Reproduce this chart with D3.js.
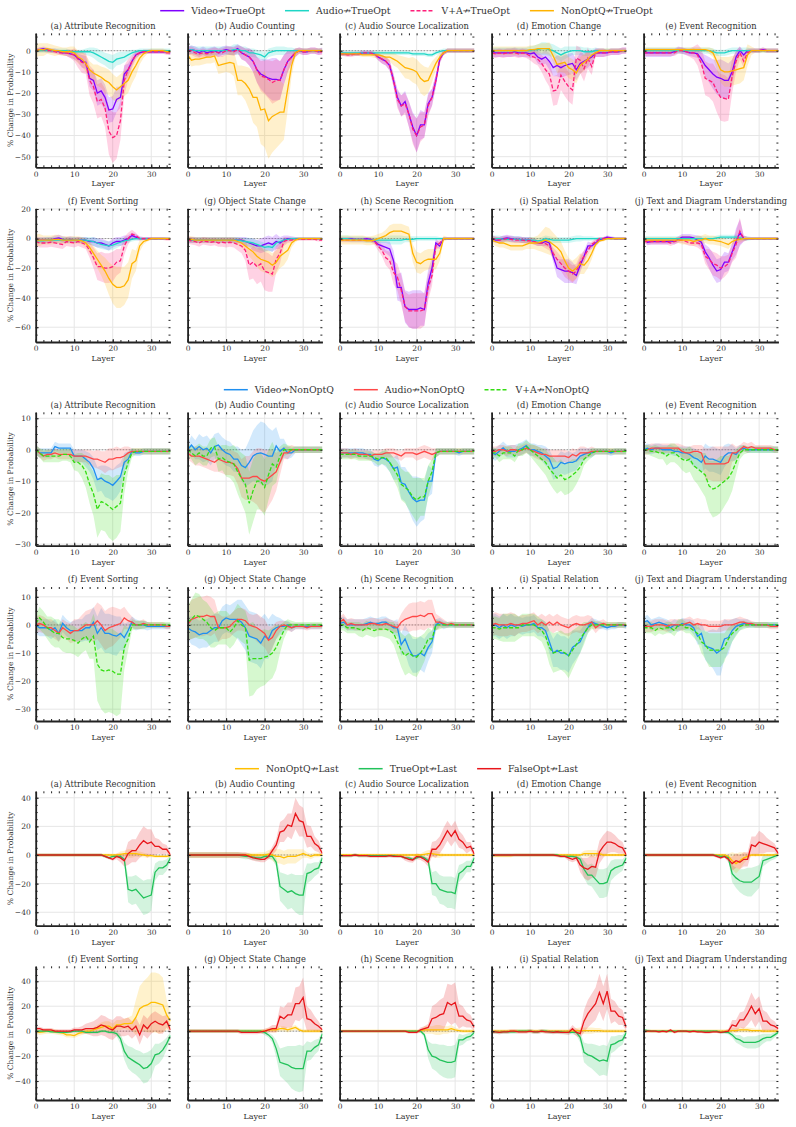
<!DOCTYPE html>
<html>
<head>
<meta charset="utf-8">
<script src="https://cdn.jsdelivr.net/npm/d3@7"></script>
<style>
  body { margin: 0; background: #fff; }
  text { font-family: "DejaVu Serif", serif; fill: #333; }
</style>
</head>
<body>
<svg id="chart" width="796" height="1127"></svg>
<script>
// ---- data ----
const layers = [0,1,2,3,4,5,6,7,8,9,10,11,12,13,14,15,16,17,18,19,20,21,22,23,24,25,26,27,28,29,30,31,32,33,34,35];
const xTicks = [0, 10, 20, 30];
const xMinorTicks = [0,2,4,6,8,10,12,14,16,18,20,22,24,26,28,30,32,34];
const categories = [
  "(a) Attribute Recognition", "(b) Audio Counting", "(c) Audio Source Localization",
  "(d) Emotion Change", "(e) Event Recognition", "(f) Event Sorting",
  "(g) Object State Change", "(h) Scene Recognition", "(i) Spatial Relation",
  "(j) Text and Diagram Understanding"
];
const yTicksByRow = [
  [-50, -40, -30, -20, -10, 0],
  [-60, -40, -20, 0, 20],
  [-30, -20, -10, 0, 10],
  [-30, -20, -10, 0, 10],
  [-40, -20, 0, 20, 40],
  [-40, -20, 0, 20, 40]
];

// group 1: knock-outs towards TrueOpt (mean % change and band half-width per layer)
const videoTrueOpt = [
  [0,0.5,1,0.5,0,0,-0.5,-1,-1,-1.5, -2,-3.5,-5,-5.5,-13,-14,-20,-19,-22,-28, -27.5,-23,-22,-11,-9,-5,-2,-1,-0.5,-0.5, -0.5,-0.5,-0.5,-0.5,-0.5,-1],
  [0,0.5,0,-1,0,-1,-0.5,0,-1,0, 0.5,0,0,1,-1,-2,-3,-5,-9,-11, -12,-13,-13.5,-13.5,-14,-9,-5,-3,-1,0, -0.5,-0.5,0,0,-0.5,0],
  [-1.5,-1.5,-1.5,-1.5,-1.5,-1.5,-1,-1,-1,-1.5, -3,-4,-5,-7,-14,-22,-26,-24,-30,-36, -40,-35,-35,-25,-22,-14,-4,-1,0,0, 0,0,0,0,0,0],
  [-1,-1,-1,-1,-1,-1,-0.5,-1,-1,-1, -1.5,-1,-3,-4,-3,-5,-8,-7,-8,-7, -6.5,-6,-9,-6,-5,-4,-3,-1,-1,-1, -1,-0.5,-0.5,-0.5,0,0],
  [-1,-1,-1,-1,-1,-1,-1,-1,-0.5,0.5, 0,-0.5,-1,-1,-1.5,-4,-7,-9,-11,-12.5, -13,-14,-14,-10,-3,0,-2,0,0,0, 0,0.5,0,0,0,0],
  [-1,-1,-1,-1,-1,0,0.5,-0.5,-1,-0.5, -1,-1,-1,-1,-2,-2,-3,-3,-4,-5, -3,-2,-2,-1,0,2,1,0,0,0, 0,0,0,0,0,0],
  [-1,-1,-1,-1,-1,-1,-1,-1,-1,-1, -1,-1,-1,-1,-1,-2,-3,-4,-5,-5, -4,-3,-4,-2,-3,-1,0,0,0,0, 0,0,0,0,0,0],
  [0,0,0,0,-0.5,-0.5,-0.5,0,-0.5,-1.5, -4,-5,-6,-7,-15,-33,-33,-46,-48,-48, -48,-47,-48,-30,-20,-3,-5,0,0,0, 0,0,0,0,0,0],
  [0,-1,-1,0,0.5,0,-0.5,-0.5,-1,-1, -1,-2,-3,-3,-2,-3,-12,-20,-21,-22, -22,-23,-25,-18,-12,-5,-5,-3,-1,0, 1,0.5,0,0,0,0],
  [0,-2.5,-2,-2,-2,-2,-2,-1.5,-2,-0.5, 1,1,1,0.5,-1,-2.5,-9,-13,-18,-22, -21,-16,-16,-9,-2,4,0,0,0,0, 0,0,0,0,0,0]
];
const videoTrueOptBand = [
  [1,1,1,1,1,1,1,1,1.5,2, 2,2,3,3,4,5,6,6,6,6, 6,6,5,4,3,2,1.5,1,1,1, 1,1,1,1,1,1],
  [2,2,2,2,2,2,2,2,2,2, 2,2,2,2,3,3,4,5,6,7, 8,9,10,10,9,7,5,3,2,1.5, 1.5,1.5,1.5,1.5,1.5,1.5],
  [1,1,1,1,1,1,1,1,1,1, 1.5,2,2,2.5,3,4,5,5,6,7, 8,7,6,5,4,3,2,1,1,1, 1,1,1,1,1,1],
  [2,2,2,2,2,2,2,2,2,2, 2,2,3,3,3,4,4,5,5,5, 5,5,5,5,4,4,3,2,2,2, 1.5,1.5,1.5,1.5,1.5,1.5],
  [2,2,2,2,2,2,2,2,1.5,1.5, 1.5,1.5,1.5,2,2,3,5,6,7,8, 9,9,8,6,3,2,2,1,1,1, 1,1,1,1,1,1],
  [2,2,2,2,2,2,2,2,2,2, 2,2,2,2,2,3,3,3,3,3, 3,3,3,3,2,2,2,1.5,1,1, 1,1,1,1,1,1],
  [2,2,2,2,2,2,2,2,2,2, 2,2,2,2,2,3,3,4,4,5, 5,5,5,5,4,3,2,1.5,1,1, 1,1,1,1,1,1],
  [1,1,1,1,1,1,1,1,1,1.5, 2,3,4,5,7,9,10,11,12,13, 13,12,11,9,7,3,2,1,1,1, 1,1,1,1,1,1],
  [2,2,2,2,2,2,2,2,2,2, 2,2,2,2,3,3,4,6,7,8, 8,7,6,5,4,3,2,2,1.5,1, 1,1,1,1,1,1],
  [1.5,2,2,2,2,2,2,2,2,2, 2,2,2,2,3,4,5,7,8,8, 8,7,6,6,9,9,2,1,1,1, 1,1,1,1,1,1]
];
const audioTrueOpt = [
  [0,0,0,0,0,0,0,0,0,-0.5, -0.5,-0.5,-0.5,-0.5,-0.5,-1,-2,-3,-4,-5, -5.5,-4,-3.5,-3,-2,-1,-0.5,0,0,0, 0,0,0,0,0,0],
  [0,0.5,0,0,0,0,0,0,0,0, 0,0,0.5,0.5,0,0,-1,-1,-1.5,-2, -3,-1,-0.5,0,0,0,0,0,0,0, 0,0,0,0,0,0],
  [-1,-1,-1,-1,-1,-1,-1,-1,-1,-1, -1,-1,-1,-1,-1,-1,-1,-1,-1,-1.5, -1.5,-1.5,-1.5,-2,-2,-1,-0.5,0,0,0, 0,0,0,0,0,0],
  [0,0,0,0,0,0,0,0,0,0, 0,0.5,0.5,1,1,0.5,0,-1,-2,-1, -0.5,0,0,0,-0.5,-0.5,-0.5,0,0,0, 0,0,0,0,0,0],
  [0,0,0,0,0,0,0,0,0,0, 0,0,0,0,0,0,0,0,-0.5,-1, -1,-1,-0.5,0,0,0,0,0,0,0, 0,0,0,0,0,0],
  [-1.5,-1.5,-1.5,-1,-1,-1,-1,-1,-1,-1, -1,-1,-1,-1,-1.5,-2,-3,-4,-4.5,-5, -4.5,-3.5,-2.5,-1.5,-1,-0.5,0,0,0,0, 0,0,0,0,0,0],
  [-1,-1,-1,-1,-1,-1,-1,-1,-1,-1, -1,-1,-1,-1,-1.5,-2,-2.5,-3,-4,-5, -6,-5.5,-6,-3,-2,-1,-0.5,0,0,0, 0,0,0,0,0,0],
  [0,0,0,-0.5,-0.5,-0.5,-0.5,-1,-1,-1, -1,-1,-1,-1,-1,-1,-1,-0.5,-0.5,-0.5, 0,0,0,0,0,0,0,0,0,0, 0,0,0,0,0,0],
  [0,0,0,-0.5,-0.5,-0.5,-0.5,-0.5,-1,-1, -1,-1,-1.5,-1,0,-0.5,-1,-1,-1,-1, -1,-0.5,0,0,0,0,0,0,0,0, 0,0,0,0,0,0],
  [0,0,0,0,0,0,0,0,0,0, 0,0,0,0,0,0,0,0,0,0.5, 1,1,1,1,1,0.5,0,0,0,0, 0,0,0,0,0,0]
];
const audioTrueOptBand = [
  [1,1,1,1,1,1,1,1,1,1, 1,1,1,1.5,2,2.5,3,3,3,3.5, 3.5,3,3,2.5,2,1.5,1,1,1,1, 1,1,1,1,1,1],
  [2,2,2,2,2,2,2,2,2,2, 2,2,2.5,2.5,2,2,2,2,2,2, 2,2,2,2,2,2,1.5,1.5,1,1, 1,1,1,1,1,1],
  [1,1,1,1,1,1,1,1,1,1, 1,1,1,1,1,1,1,1,1,1, 1,1,1,1,1,1,1,1,1,1, 1,1,1,1,1,1],
  [1.5,1.5,1.5,1.5,1.5,1.5,1.5,1.5,1.5,1.5, 2,2,2.5,3,3,3,3,3,3,3, 2.5,2,2,2,2,2,1.5,1.5,1,1, 1,1,1,1,1,1],
  [1.5,1.5,1.5,1.5,1.5,1.5,1.5,1.5,1.5,1.5, 1.5,1.5,1.5,1.5,1.5,1.5,1.5,1.5,1.5,1.5, 1.5,1.5,1.5,1.5,1.5,1.5,1.5,1.5,1,1, 1,1,1,1,1,1],
  [2,2,2,2,2,2,2,2,2,2, 2,2,2,2,2.5,3,3,3,3,3, 3,3,2.5,2,2,1.5,1.5,1,1,1, 1,1,1,1,1,1],
  [2,2,2,2,2,2,2,2,2,2, 2,2,2,2,2,2.5,3,3,3,3, 3,3,3,2.5,2,1.5,1,1,1,1, 1,1,1,1,1,1],
  [2,2,2,2,2,2,2,2,2,2, 2,2,2,3,3,3,3,2,2,2, 1.5,1.5,1.5,1.5,1.5,1.5,1,1,1,1, 1,1,1,1,1,1],
  [2,2,2,2,2,2,2,2,2,2, 2,2,2,2,2,2,2,2,2,2, 2,2,2,2,1.5,1.5,1.5,1,1,1, 1,1,1,1,1,1],
  [1.5,1.5,1.5,1.5,1.5,1.5,1.5,1.5,1.5,1.5, 1.5,1.5,1.5,1.5,1.5,1.5,1.5,1.5,1.5,1.5, 1.5,1.5,1.5,1.5,1.5,1.5,1.5,1.5,1,1, 1,1,1,1,1,1]
];
const vaTrueOpt = [
  [0,0.5,0.5,0,0,-0.5,-1,-1,-1,-1.5, -2,-4,-5.5,-6,-14,-17,-24,-23,-27,-38, -41,-40,-33,-14,-9,-5,-2,-1,-0.5,-0.5, -0.5,-0.5,-0.5,-0.5,-1,-1],
  [0,0,-1,-1.5,-1,-1.5,-1,-0.5,-1,-1, 0,0,-0.5,0.5,-1,-2,-3,-5,-9,-12, -12.5,-13.5,-15,-14,-14,-9,-5,-3,-1,0, -0.5,-0.5,0,0,-0.5,-0.5],
  [-1.5,-1.5,-2,-2,-1.5,-1.5,-1,-1,-1,-1.5, -3,-4,-5,-7,-14,-23,-26,-25,-30,-37, -40,-36,-35,-26,-22,-14,-4,-1,0,0, 0,0,0,0,0,0],
  [-1,-1.5,-1,-1.5,-1,-1,-1,-1.5,-1,-1.5, -2.5,-3,-4,-6,-9,-11,-19,-18.5,-11.5,-14.5, -17,-18.5,-3.5,-4.5,-8.5,-3.5,-7.5,-1,-1,-1, -1,-0.5,-0.5,-0.5,0,0],
  [-1,-1,-1,-1,-1,-1,-1,-1,-1,0, 0,-0.5,-1,-1,-2,-6,-13,-14,-15,-19, -22,-22.5,-23,-12,-5,-1,-5,-1,0,0, 0,0.5,0,0,0,0],
  [-2,-3,-3,-3,-2.5,-3,-3.5,-4,-2,-2.5, -3,-2,-3,-4,-8,-13,-19,-19,-20,-20, -19,-16,-15,-5,0,3,2,0,0,0, 0,0,0,0,-0.5,-0.5],
  [-1,-1.5,-2,-3,-1.5,-2,-2.5,-2,-3,-2.5, -3,-2.5,-3,-4,-5,-8,-18,-16,-19,-17, -22,-23,-24,-14,-10,-2,-1,-1,-0.5,-0.5, -0.5,-0.5,-0.5,-0.5,-1,-1],
  [-0.5,-1,-1,-1,-1,-1,-1,-1,-1,-2, -5,-8,-13,-15,-23,-26,-35,-46,-49,-49, -49,-49,-48,-33,-25,-5,-3,0,0,0, 0,0,0,0,0,0],
  [0,-0.5,-1,-0.5,0,-0.5,-1,-1,-1,-1.5, -1.5,-2,-3,-3,-3.5,-5,-10,-14,-17,-20, -22,-24,-22,-16,-12,-8,-4,-2,0,0, 0.5,0,0,0,0,0],
  [-2,-2,-2,-2,-2,-2,-2,-3,-2,-1, -1,-2,-3,-3,-3,-4,-12,-14,-17,-18, -20,-19,-17,-10,-4,5,0,0,0,0, 0,0,0,0,0,0]
];
const vaTrueOptBand = [
  [1,1,1,1,1,1,1,1,1.5,2, 3,4,5,5,7,8,8,8,9,11, 12,11,9,7,5,3,2,1,1,1, 1,1,1,1,1,1],
  [2,2,2,2,2,2,2,2,2,2, 2,2,2,2,3,3,4,5,6,7, 8,9,10,10,9,7,5,3,2,1.5, 1.5,1.5,1.5,1.5,1.5,1.5],
  [1,1,1,1,1,1,1,1,1,1, 1.5,2,2,2.5,3,4,5,5,6,7, 8,7,6,5,4,3,2,1,1,1, 1,1,1,1,1,1],
  [2,2,2,2,2,2,2,2,2,2, 2,3,3,4,5,6,7,7,7,7, 7,7,6,6,6,5,4,2,2,2, 1.5,1.5,1.5,1.5,1.5,1.5],
  [1.5,1.5,1.5,1.5,1.5,1.5,1.5,1.5,1.5,1.5, 1.5,1.5,2,3,5,7,8,8,9,10, 11,11,10,8,5,3,3,1.5,1,1, 1,1,1,1,1,1],
  [3,3,3,3,3,3,3,3,3,3, 3,3,3,3,5,7,9,10,10,10, 10,9,8,6,4,3,2,1,1,1, 1,1,1,1,1,1],
  [2.5,2.5,2.5,2.5,2.5,2.5,2.5,2.5,2.5,3, 3,3,3,4,5,7,10,11,12,12, 13,13,12,9,7,3,2,1.5,1,1, 1,1,1,1,1,1],
  [1.5,1.5,1.5,1.5,1.5,1.5,1.5,1.5,1.5,2, 3,4,5,6,8,9,10,10,11,12, 12,12,11,9,7,3,2,1,1,1, 1,1,1,1,1,1],
  [2,2,2,2,2,2,2,2,2,2, 2,2,2,2,3,3,4,5,5,6, 6,6,5,5,4,3,2,2,1,1, 1,1,1,1,1,1],
  [1.5,2,2,2,2,2,2,2,2,2, 2,2,2,2,3,4,5,7,8,8, 8,7,6,6,9,9,2,1,1,1, 1,1,1,1,1,1]
];
const nonOptQTrueOpt = [
  [0,0.5,0.5,1,0.5,0,0,-0.5,-0.5,-0.5, -1,-3,-4,-6,-9,-10.5,-11.5,-12.5,-14,-15, -17,-18.5,-17,-15.5,-14,-10,-7,-3.5,-1.5,-0.5, 0,0,0,0,-0.5,-0.5],
  [-2,-4.5,-4,-4,-3.5,-3,-3,-2.5,-7,-6.5, -6,-5.5,-6,-14,-14,-15.5,-18,-22,-22,-28, -27.5,-33,-31,-30,-29,-29,-18,-7,-1,0, 0,0,0,0,0,0],
  [-1.5,-1.5,-1.5,-1.5,-1.5,-1.5,-2,-2,-2,-2, -2,-2.5,-3,-3,-4,-5,-6.5,-8,-8.5,-9, -10,-13,-14.5,-14,-10,-6,-3,-1,0,0, 0,0,0,0,0,0],
  [0,0,0,0,0,0,0,0,0,0, 0.5,0.5,1,1,1,1,-2.5,-6.5,-6,-5.5, -8,-9,-10.5,-7,-5.5,-4,-2,-1,0,0, 0,0,0,0,0,0],
  [0.5,0.5,0.5,0.5,0.5,0.5,0.5,0.5,0.5,0.5, 0.5,0.5,0.5,0.5,0.5,0.5,0.5,0,-1,-5, -9,-10,-10,-9.5,-9,-8.5,-8,-2,0,0, 0,0,0,0,0,0],
  [-1,-1,-1,-1,-1,-0.5,-0.5,-1,-1,-1, -1,-1,-1.5,-3,-6,-10,-14,-18,-22,-27, -31,-33,-33,-32,-28,-17,-15,-5,-2,-1, 0,0,0,0,0,0],
  [-0.5,-0.5,-1,-1,-1,-1,-1,-1,-1,-1, -1,-1,-1,-2,-3,-5,-7,-9,-12,-14, -15,-16,-18,-16,-12,-10,-8,-3,-1,0, 0,0,0,0,0,0],
  [-1,-1,-1,-1,-1,-1,-1,-1.5,-1.5,-1, 0,1,2,4,5,5,5,4,3,-10, -16,-17,-15,-14,-14,-14,-10,0,0,0, 0,0,0,0,0,0],
  [-1,-2,-3,-3,-4,-5,-5,-5,-5,-4, -3,-3,-3,-2,-1,-2,-4,-6,-9,-15, -20,-22,-20,-17,-18,-15,-10,-4,-1.5,-1, 0,0,0,0,0,0],
  [-1,-1,-1,-1,-1,-1,-1,-1,-1,-1, -1,-1,-1,-2,-1,-1,0,-1,-1,-1.5, -2,-3,-4,-2,-1,-0.5,0,0,0,0, 0,0,0,0,0,0]
];
const nonOptQTrueOptBand = [
  [3,3,3,2.5,2.5,2.5,2,2,2,2.5, 3,3,3.5,4,4,4,5,5,6,6, 6,6,6,6,6,5.5,5,3,2,1, 1,1,1,1,1,1],
  [3,3,3,3,3,3,3,3,4,4, 4,5,6,7,7,8,10,12,14,16, 18,18,17,16,15,13,10,5,2,1, 1,1,1,1,1,1],
  [1,1,1,1,1,1,1,1,1,1.5, 1.5,2,2,2,3,3,4,5,5,6, 6,7,7,6,5,3,2,1,1,1, 1,1,1,1,1,1],
  [2,2,2,2,2,2,2,2,2,2, 2,2,2,2.5,2.5,3,3,4,4,5, 5,5,5,4,4,3,2,1.5,1,1, 1,1,1,1,1,1],
  [1,1,1,1,1,1,1,1,1,1, 1,1,1,1,1,1,1,1.5,2,4, 6,7,7,7,7,7,6,5,2,1, 1,1,1,1,1,1],
  [4,4,3,3,3,3,3,2.5,2.5,2.5, 2.5,2.5,2.5,3,4,5,6,7,9,11, 13,14,14,13,12,10,7,4,2,1, 1,1,1,1,1,1],
  [2,2,2,2,2,2,2,2,2,2, 2,2,2,2.5,3,4,5,6,7,8, 8,8,8,8,8,8,6,3,1.5,1, 1,1,1,1,1,1],
  [3,3,3,3,3,3,3,3,3,3, 3,3,4,5,5,5,5,5,5,6, 7,7,7,7,7,7,5,2,1,1, 1,1,1,1,1,1],
  [2,3,3,3,3,3,3,3,3,3, 4,4,5,7,9,9,8,7,7,7, 7,7,7,7,6,5,4,2,1,1, 1,1,1,1,1,1],
  [2,2,2,2,2,2,2,2,2,2, 3,3,3,3,3,3,3,3,3,3, 3,3,3,2,2,2,1.5,1,1,1, 1,1,1,1,1,1]
];

// group 2: knock-outs towards NonOptQ
const videoNonOptQ = [
  [0,-1,-1,-1,-1,1,0.5,0.5,0.5,0.5, -2,-2,-2,-3,-4,-6,-9.5,-9,-10,-10.5, -11.3,-10,-8.6,-4,-3,-0.5,-1,-1,-0.5,-0.5, -0.5,-0.5,-0.5,-0.5,-0.5,-0.5],
  [0,1.5,0,1,0,0.5,-1,1,1.5,0, -1,-1.5,-3,-3,-5,-5.7,-4,-2,-1.2,-1, -1.5,-2,-2,1.2,-0.5,0.5,-1,-1,0,0, 0,0,0,0,0,0],
  [-1,-1,-1,-1,-1,-1,-1,-1.5,-1.5,-3, -3.5,-2.5,-3,-4,-6,-5.5,-10.5,-11,-13.5,-15.5, -16.5,-16,-16,-10,-10,-1,-0.5,-0.5,-0.5,-0.5, -0.5,-1,-0.5,-0.5,-0.5,-0.5],
  [-1,-1.5,-0.5,0.6,-0.5,-0.5,-0.5,0,0.5,1.3, 0,0,-0.5,-1,-2,-3,-6,-5.5,-4,-4.5, -4,-4,-3.5,-2,-1.5,-1,-1,-0.5,-0.5,-0.5, -0.5,-1,-0.5,-0.5,-0.5,-0.5],
  [0,0.5,0,0.5,0.5,0,0,0,-0.5,-0.5, -1,-1,-1.5,-2.5,-3,-4,-2,-3,-3,-3.5, -4,-2,-1,-1,-1.5,0,0.5,0,0,0, 0,0,0,0,0,0],
  [0,-1,-1,-1,-2,-1,-3,0.6,-1,-2, -2,-2,-2,-1,-1,1,-3,-1,-3,-3, -3.6,-4,-3,-4.5,-2,1,0,0,0,-0.5, -0.5,-0.5,-0.5,-0.5,-0.5,-0.5],
  [-1,-2,-2.5,-3.5,-3,-3,-2,-1,-1,1.5, 2.5,2,2,2,1,-1,-4,-4.5,-5,-6.5, -4,-5,-2,-1,-0.5,-0.5,0,-1,-0.5,-0.5, -0.5,-0.5,-0.5,-0.5,-0.5,-0.5],
  [0.5,1,0,0,0,0,0,0.5,1,0.5, 0.5,1,1,0,-1,-1,-7,-5,-8.5,-11, -11,-10,-11,-8,-6,0,1,0,0,0, 0,0,0,0,0,0],
  [0,0,-1,0,-1,0,-0.5,0,-0.5,0, 0,0.5,-1,-1,-2,-6,-10,-9,-10,-10, -11,-8,-7,-6,-3,-1,1,0.5,0,-0.5, -1,-0.5,-0.5,0,0,-0.5],
  [1,1.5,0,0.5,1,0.5,0,-1,0,-0.5, 0.5,0,0,-1,-4,-3,-7.5,-8,-8.5,-10, -9,-5,-4.5,-2,-0.5,0,0.5,0.5,0,0, 0,0,0,0,0,0]
];
const videoNonOptQBand = [
  [1.5,1.5,1.5,1.5,1.5,1.5,1.5,1.5,1.5,1.5, 2,2,2,2.5,3,3.5,4,4,5,5, 5,5,4.5,3,2.5,1,1,1,1,1, 1,1,1,1,1,1],
  [2,3,3,4,4,4,4,4,4,4, 4,4,4,4,5,6,7,8,9,10, 10,9,8,6,4,3,2,1.5,1,1, 1,1,1,1,1,1],
  [1.5,1.5,1.5,1.5,1.5,1.5,1.5,1.5,1.5,2, 2,2,2.5,3,3.5,4,5,5.5,6,7, 8,7,6,5,4,1.5,1,1,1,1, 1,1,1,1,1,1],
  [2,2,2,2,2,2,2,2,2,2, 2,2,2,2.5,3,3,3.5,3.5,3.5,3.5, 3.5,3,3,2.5,2,1.5,1.5,1,1,1, 1,1,1,1,1,1],
  [1.5,1.5,1.5,1.5,1.5,1.5,1.5,1.5,1.5,1.5, 2,2,2.5,3,3,3.5,4,4,4,4, 4,3.5,3,2.5,2,1.5,1,1,1,1, 1,1,1,1,1,1],
  [3,3,3,3,3,3,3,3,3,3, 3.5,4,4,4.5,5,5.5,6,7,7,7, 7,7,6,5,3,2,2,1.5,1.5,1.5, 1,1,1,1,1,1],
  [4,5,5,5,5,5,5,5,5,5, 5,5,6,7,8,8,9,9,9,9, 8,7,6,4,3,2,1.5,1.5,1,1, 1,1,1,1,1,1],
  [2,2,2,2,2,2,2,2,2,2, 2,2,2,2,2.5,3,4,5,6,6, 6,6,6,5,4,2,1.5,1.5,1,1, 1,1,1,1,1,1],
  [4,4,4,4,4,4,3.5,3,3,3, 3,3,3,3,3,4,5,6,6,6, 6,6,5,4,3,2,1.5,1.5,1.5,1, 1,1,1,1,1,1],
  [2,2,2,2,2,2,2,2,2,2, 2,2,2,2.5,3,4,5,6,7,8, 9,7,6,4,3,2,1.5,1.5,1,1, 1,1,1,1,1,1]
];
const audioNonOptQ = [
  [0,-1,-2,-1.5,-1.5,-1,-1.5,-1.5,-1.5,-1.5, -2,-2,-2,-2,-2.5,-3,-3,-3.5,-4,-3, -3,-2.5,-2.5,-2,-1,-0.5,-0.5,-0.5,-0.5,-0.5, -0.5,-0.5,-0.5,-0.5,-0.5,-0.5],
  [-1,-2,-2,-2,-2.5,-3,-3.5,-4,-3,-3.5, -4,-4,-4.5,-6,-9,-9,-9,-8.5,-8.5,-9.5, -10,-9,-8,-7,-4,-1,-1,0,0,0, 0,0,0,0,0,0],
  [-1,-1,-1,-1.5,-1,-1.5,-1.5,-1.5,-2,-1.5, -1.5,-1.5,-1,-1,-1,-1.5,-2,-1,-1,-1, -1.5,-1,-0.5,-1,-1.5,-1,-0.5,-0.5,-0.5,-0.5, -0.5,-0.5,-0.5,-0.5,-0.5,-0.5],
  [-0.5,-0.5,0,0,-0.5,0,0,-0.5,0,0.5, 0,-0.5,-1,-1.5,-1.5,-2,-2,-2,-2,-2, -2.5,-1.5,-2,-1,-1,-1,-0.5,-0.5,-0.5,-0.5, -0.5,-0.5,-0.5,-0.5,-0.5,-0.5],
  [0,0,0.5,0.5,0.5,0.5,0.5,0.5,0.5,0.5, -0.5,-1,-1,-0.5,-0.5,-1,-4.5,-4.5,-4.5,-4.5, -4.5,-4.5,-4,-1,-1,0,1,0.5,1,0.5, 0.5,0.5,0.5,0.5,0,0],
  [0,0.5,0,-1,-1,-2,-3,-1,-2,-3, -2,-2,-1,0,0,0,1.5,0,-2,-1, -0.5,0,0.5,2.5,1.5,1,0,0,0.5,0, 0,0,0,0,-0.5,-0.5],
  [0,2,2.5,3,3,3.5,3,3,-1,-1, -1,-0.5,1,2,2,1.5,0,-0.5,-1,-2, -3,-5.5,-4.5,-2,-0.5,0,-0.5,-1,-0.5,-0.5, -0.5,-1,-0.5,-0.5,-0.5,-0.5],
  [1,2,0,0.5,0,0,0,0,0.5,0.5, 0,0,0.5,0,-0.5,-1,1,2,2.5,3, 3,3.5,3,4,4,1,1,0.5,0,0.5, 0,0,0,0,0,0],
  [0,0.5,0,0,0,0.5,0,0,0.5,0.5, 1,1.5,0,1,0,1,0,1,0,-0.5, -1,0,0.5,0,0,0.5,1,-1,0,0.5, 0,0,0,0,0,0],
  [-0.5,-0.5,-0.5,0,0,0,-0.5,0,0,0, 0,0.5,1,0,0.5,0,0,-0.5,-0.5,-0.5, -0.5,0,0,0,0.5,1,1,0.5,0.5,0, 0,0,0,-0.5,-0.5,-0.5]
];
const audioNonOptQBand = [
  [1.5,1.5,1.5,1.5,1.5,1.5,1.5,1.5,1.5,1.5, 2,2,2,2,2.5,2.5,3,3,3.5,3.5, 3.5,3.5,3,3,2,1,1,1,1,1, 1,1,1,1,1,1],
  [2,2,3,3,3,3,3,3,4,4, 4,4,4,5,6,7,7,8,9,10, 10,9,8,6,4,2,2,1.5,1,1, 1,1,1,1,1,1],
  [1.5,1.5,1.5,1.5,1.5,1.5,1.5,1.5,1.5,1.5, 1.5,1.5,1.5,1.5,1.5,1.5,1.5,1.5,1.5,1.5, 2,2,2,2,2,1.5,1,1,1,1, 1,1,1,1,1,1],
  [1.5,1.5,1.5,1.5,1.5,1.5,1.5,1.5,1.5,1.5, 1.5,2,2,2,2,2,2,2,2,2, 2,2,2,2,2,1.5,1.5,1,1,1, 1,1,1,1,1,1],
  [1.5,1.5,1.5,1.5,1.5,1.5,1.5,1.5,1.5,1.5, 2,2,2,2,2,2.5,5,5,5.5,5.5, 5.5,5.5,5,3,2,1.5,1.5,1.5,1.5,1, 1,1,1,1,1,1],
  [3,3,3,3,3,3,3,3,3,3.5, 4,4,4.5,5,5.5,6,6.5,7,7,7, 7,6,5,4,3,2,1.5,1.5,1.5,1, 1,1,1,1,1,1],
  [6,7,7,7,7,7,7,6,5,4, 4,4,4,4,4,4,4,4,5,5, 5,5,4,3,2,1.5,1.5,1.5,1,1, 1,1,1,1,1,1],
  [2,2,2,2,2,2,2,2,2,2, 2,2,2,2,2,2,3,4,5,5, 5,5,5,5,5,3,2,1.5,1,1, 1,1,1,1,1,1],
  [4,4,4,4,4,4,4,3,3,3, 3,3,3,3,3,3,3,3,3,3, 3,3,3,3,3,3,2,2,1.5,1.5, 1,1,1,1,1,1],
  [2,2,2,2,2,2,2,2,2,2, 2,2,2,2,2,2,2,2,2,2, 2,2,2,2,2,2,1.5,1.5,1,1, 1,1,1,1,1,1]
];
const vaNonOptQ = [
  [0,-1,-2,-2,-2,-2,-2,-1.5,-1.5,-2, -4,-4,-5,-7,-11,-14,-19,-16.5,-17,-18, -19,-18,-17,-8,-4,-1,-0.5,-0.5,-0.5,-0.5, -0.5,-0.5,-0.5,-0.5,-0.5,-0.5],
  [0,-1,-2,-1,-2,-2,0.5,1,-3,-2.5, -3.5,-4,-4.5,-7,-9,-11,-17,-13,-10,-10, -12,-8,-4.5,-5.5,-2,0,0,0,0,0, 0,0,0,0,0,0],
  [-1.5,-1.5,-1.5,-1.5,-1.5,-2,-2,-2,-2,-2.5, -3,-2.5,-2.5,-4,-6,-8,-11,-12,-13,-15, -16,-15,-15,-10,-7,-1,-0.5,-0.5,-0.5,-0.5, -0.5,-0.5,-0.5,-0.5,-0.5,-0.5],
  [-1,-1,-2,-1,-1,-1,-2,0,0,1, 0,-1,-2,-3,-4,-6,-7.5,-9,-8,-9.5, -9,-8,-7,-5.5,-3,-2,-1,-0.5,-0.5,-0.5, -0.5,-0.5,-0.5,-0.5,-0.5,-0.5],
  [0,0,-0.5,-0.5,-1,-1,-2,-1,-1,-2, -3,-3.5,-3,-5,-6,-7,-8,-11.5,-12.5,-12, -11,-10,-9,-7,-4,-1,0,0,0,0, 0,0,0,0,0,0],
  [0.5,2.5,1,-1,-2,-3,-3,-4.5,-5,-5, -5.5,-6.5,-5,-4,-6,-4,-14,-16,-16.5,-16, -16.5,-17.5,-17.5,-8,-5,0,0,0,0,0, 0,0,0,0,0,0],
  [1,2,3.5,3,2,1,-1,-2,-1,-1, -1,-2.5,-1,1.5,0,-1,-12.5,-12,-12,-12, -11.5,-11,-10,-8,-5,-2,0,0,0,0, 0,0,0,0,0,0],
  [0,0,-1,-1,-1,-1.5,-2,-1,-1.5,-2, -1.5,-1.5,-1.5,-2,-3,-6,-9,-11,-10,-11, -11.5,-10,-8,-5,-5,0,0,0,0,0, 0,0,0,0,0,0],
  [-1,-1,-1.5,-1,-1,-1,-1,-1,0,0, 0,0,-1,-2,-4,-8,-10,-9.5,-9,-10, -11,-9,-7,-5,-3,-1,0,0,0,0, 0,0,0,0,0,0],
  [-1,-1,-1,-2,-1,-1.5,-1,-1,-2,0, 0,-1,-1,-2,-3,-6,-7,-9,-9,-9, -9,-8,-5,-3,-2,-0.5,0,0,0,0, 0,0,0,0,0,0]
];
const vaNonOptQBand = [
  [1.5,1.5,2,2,2,2,2,2,2,2, 2.5,3,4,5,6,7,9,9,9,10, 10,10,9,6,3,1.5,1,1,1,1, 1,1,1,1,1,1],
  [2,2,3,3,3,3,3,3,4,4, 5,5,6,7,8,9,10,10,9,9, 9,8,7,5,3,2,1.5,1,1,1, 1,1,1,1,1,1],
  [1.5,1.5,1.5,1.5,1.5,1.5,1.5,1.5,1.5,1.5, 2,2,2.5,3,3.5,4,5,5,6,6, 7,6,6,5,4,1.5,1,1,1,1, 1,1,1,1,1,1],
  [1.5,1.5,2,2,2,2,2,2,2,2, 2,2.5,3,3.5,4,4.5,5,5,5,5, 5,5,4,3,2,1.5,1.5,1,1,1, 1,1,1,1,1,1],
  [1.5,1.5,1.5,2,2,2,3,3,3,3, 3.5,4,4,4.5,5,6,7,8,9,9, 9,8,7,6,4,2,1.5,1,1,1, 1,1,1,1,1,1],
  [3,4,4,4,5,5,5,5,5,5, 5,5,5,5,6,8,13,14,15,15, 15,15,14,8,4,2,1.5,1.5,1.5,1, 1,1,1,1,1,1],
  [6,7,8,8,7,7,7,6,6,6, 6,6,6,6,6,6,13,13,11,10, 10,9,9,8,5,3,2,1.5,1,1, 1,1,1,1,1,1],
  [2,2,2,2,2,2.5,2.5,2.5,2.5,2.5, 2.5,2.5,3,3,4,5,6,7,7,7, 7,6,5,4,3,2,1.5,1,1,1, 1,1,1,1,1,1],
  [4,4,4,5,5,5,5,4,4,4, 4,4,4,4,5,6,7,7,7,7, 8,7,6,5,4,2,1.5,1.5,1,1, 1,1,1,1,1,1],
  [2,2,2,2,2,2,2,2,2,2, 2,2,2,2.5,3,4,5,6,6,6, 6,5,4,3,2,1.5,1.5,1,1,1, 1,1,1,1,1,1]
];

// group 3: knock-outs towards the last token
const nonOptQLast = [
  [0,0,0,0,0,0,0,0,0,0, 0,0,0,0,0,0,0,0,0,0, 0,0,0.5,1,1,1,1,0.5,0,-0.5, -0.5,-1,-1,-1,-1,-0.5],
  [0,0,0,0,0,0,0,0,0,0, 0,0,0,0,0,0,0,0,0,0, 0,0.5,0,-1,-1,-2,-1,-1,-1,0, 1,0,-1,0,0,0],
  [0,0,0,0,0,0,0,0,0,0, 0,0,0,0,0,0,0,0,0,0, 0,0,0.5,1,1,0.5,0,0,0,0, 0,0,0,0,0,0],
  [-0.5,-0.5,-0.5,-0.5,-0.5,-0.5,0,0,0,0, 0,0,0,0,0,0,0,0,0,0, 0,0,0,0,1,1,1,1,1,0, 0,0,0,0,0,0],
  [0,0,0,0,0,0,0,0,0,0, 0,0,0,0,0,0,0,0,0,0, 0,0,-1,-4,-6,-4,-2,-1,0,0, 0,0,0,0,0,0],
  [0,-1,-0.5,0,0,-0.5,-1,-1.5,-3,-3, -3.5,-2,-1,0,0,1,2,3,4,4, 2,5,5,6,6,6.5,11,18,20,21, 23,23,22,21,13,8],
  [0,0,0,0,0,0,0,0,0,0, 0,0,0,0,0,0,0,0,0,0, 0,1,1,1,2,2,1,2,3,1, 0,0,0,0,0,0],
  [0,0,0,0,0,0,0,0,0,0, 0,0,0,0,0,0,0,0,0,0, 0,0,1,1,1,1,1,1,1,2, 1,0.5,0,0,0,0],
  [0,0,0,0,0,0,0,0,0,0, 0,0,0,0,0,0,0,0,0,0, 0,0,0.5,0.5,0.5,0.5,0.5,0.5,0.5,0, 0,0,0,0,0,0],
  [0,0,0,0,0,0,0,0,0,0, 0,0,0,0,0,0,0,0,0,0, 0,0,0,0.5,0.5,1,1,1,0.5,0.5, 0.5,0,0,0,0,0]
];
const nonOptQLastBand = [
  [1,1,1,1,1,1,1,1,1,1, 1,1,1,1,1,1,1,1,1,1, 1,1,2,2,3,3,2,2,1.5,1.5, 1,1,1,1,1,1],
  [2,2,2,2,2,2,2,2,2,2, 2,2,2,2,1.5,1.5,1.5,1.5,1.5,2, 2,3,4,5,5,5,5,5,5,4, 3,2,2,1.5,1.5,1],
  [1,1,1,1,1,1,1,1,1,1, 1,1,1,1,1,1,1,1,1,1, 1,1,2,2.5,2.5,2.5,2,1,1,1, 1,1,1,1,1,1],
  [1,1,1,1,1,1,1,1,1,1, 1,1,1,1,1,1,1,1,1,1, 1,1,1,1,2,2.5,2.5,2.5,2,1, 1,1,1,1,1,1],
  [1,1,1,1,1,1,1,1,1,1, 1,1,1,1,1,1,1,1,1,1, 1,1,2,6,7,6,4,2,1,1, 1,1,1,1,1,1],
  [2,2,2,2,2,2,2,2,2,2, 2,2,2,2,2,2,3,4,4,4, 4,4,4,4,5,6,14,18,20,22, 24,24,24,22,12,6],
  [1.5,1.5,1.5,1.5,1.5,1.5,1.5,1.5,1.5,1.5, 1.5,1.5,1.5,1.5,1.5,1.5,1.5,1.5,1.5,1.5, 1.5,1.5,2,2,2,2,2,2,2,1.5, 1.5,1.5,1.5,1.5,1.5,1.5],
  [1.5,1.5,1.5,1.5,1.5,1.5,1.5,1.5,1.5,1.5, 1.5,1.5,1.5,1.5,1.5,1.5,1.5,1.5,1.5,1.5, 1.5,1.5,3,3,3,4,4,3,3,3, 2,1.5,1.5,1.5,1.5,1.5],
  [1.5,1.5,1.5,1.5,1.5,1.5,1.5,1.5,1.5,1.5, 1.5,1.5,1.5,1.5,1.5,1.5,1.5,1.5,1.5,1.5, 1.5,1.5,2,2.5,2.5,2.5,2.5,2,2,1.5, 1.5,1.5,1.5,1.5,1.5,1.5],
  [1.5,1.5,1.5,1.5,1.5,1.5,1.5,1.5,1.5,1.5, 1.5,1.5,1.5,1.5,1.5,1.5,1.5,1.5,1.5,1.5, 1.5,1.5,1.5,2,2,2,2,2,2,1.5, 1.5,1.5,1.5,1.5,1.5,1.5]
];
const trueOptLast = [
  [0,0,0,0,0,0,0,0,0,0, 0,0,0,0,0,0,0,0,-1,-2, -1,-1,-1,-3,-24,-25,-24,-27,-30,-29, -28,-12,-9,-9,-7,-2],
  [0,0,0,0,0,0,0,0,0,0, 0,0,0,0,-0.5,-1,-1,-1.5,-2,-2, -1,-1,-1,-5,-22,-24,-26,-25,-27,-28, -28,-13,-12,-10,-9,-2],
  [-0.5,-0.5,-0.5,-0.5,0,-0.5,-0.5,-0.5,-0.5,-0.5, -0.5,-0.5,-0.5,-0.5,-0.5,-1,-1,-2,-2,-3, -2,-1,-2,-4,-20,-20,-24,-25,-26,-26, -27,-13,-11,-8,-8,-2],
  [0,0,0,0,0,0,0,0,0,0, 0,0,0,0,0,0,0,0,-1,-1, -1,-1,-1.5,-3,-10,-14,-14,-17,-20,-20, -19,-11,-9,-8,-7,-2],
  [0,0,0,0,0,0,0,0,0,0, 0,0,0,0,0,0,0,0,0,-0.5, -1,-1,-2,-13,-16,-18,-19,-19,-19,-17, -15,-4,-3,-2,-1,0],
  [0,0,0,0,-0.5,-0.5,-1,-1,-1,-0.5, 0,0,0,-1,-1,-1,-1,0,0,-1, -1,-2,-6,-16,-21,-23,-25,-27,-30,-29, -26,-19,-18,-15,-10,-3.5],
  [0,0,0,0,0,0,0,0,0,0, 0,0,0,0,0,0,0,0,0,0, -1,-3,-6,-14,-25,-26,-27,-29,-30,-30, -30,-16,-16,-13,-11,-2],
  [0,0,0,0,0,0,0,0,0,0, 0,0,0,0,0,0,0,0,0,0, 0,0,-3,-15,-20,-21,-23,-24,-25,-25, -24,-7,-7,-5,-4,-1],
  [-0.5,-0.5,-1,-0.5,-0.5,-0.5,-0.5,0,0,0, 0,-0.5,-0.5,0,0,-0.5,-0.5,-0.5,-0.5,-1, -1,-1,-1,-5,-17,-19,-20,-22,-24,-23, -24,-11,-10,-8,-7,-1],
  [1,0.5,0,0,0,0,0,0,0,0, 0,0,0,0,0,0,0,0,0,0, -1,-1,-1,-3,-6,-7,-9,-9,-9,-9, -8,-6,-5,-5,-3,-1]
];
const trueOptLastBand = [
  [1,1,1,1,1,1,1,1,1,1, 1,1,1,1,1,1,1,1,1,1, 1,1,1,2,9,10,10,11,12,12, 11,6,5,5,4,2],
  [2,2,2,2,2,2,2,2,2,2, 2,2,2,2,2,2,2,2,2,2, 2,2,2,3,10,11,12,12,13,14, 14,7,6,5,4,2],
  [1,1,1,1,1,1,1,1,1,1, 1,1,1,1,1,1,1,1,1,1, 1,1,1,2,8,9,10,10,11,11, 11,6,5,4,4,2],
  [1,1,1,1,1,1,1,1,1,1, 1,1,1,1,1,1,1,1,1,1, 1,1,1.5,3,6,7,8,9,10,10, 10,7,6,5,4,2],
  [1,1,1,1,1,1,1,1,1,1, 1,1,1,1,1,1,1,1,1,1, 1,1,2,6,7,8,9,10,10,9, 8,4,3,2,2,1],
  [1,1,1,1,1,1,1,1,1,1, 1,1,1,1,1,1,1,1,1,1, 1.5,2,4,7,9,10,10,11,12,12, 11,9,8,7,5,3],
  [1.5,1.5,1.5,1.5,1.5,1.5,1.5,1.5,1.5,1.5, 1.5,1.5,1.5,1.5,1.5,1.5,1.5,1.5,1.5,1.5, 2,2,3,7,11,13,15,17,18,19, 18,8,7,6,5,2],
  [1,1,1,1,1,1,1,1,1,1, 1,1,1,1,1,1,1,1,1,1, 1,1,2,7,10,11,12,13,13,13, 13,5,4,3,3,2],
  [1.5,1.5,1.5,1.5,1.5,1.5,1.5,1.5,1.5,1.5, 1.5,1.5,1.5,1.5,1.5,1.5,1.5,1.5,1.5,1.5, 1.5,1.5,2,4,8,9,10,11,12,12, 12,7,6,5,4,2],
  [1,1,1,1,1,1,1,1,1,1, 1,1,1,1,1,1,1,1,1,1, 1,1,1.5,2,3,4,4,5,5,5, 5,4,3,3,2,1.5]
];
const falseOptLast = [
  [0,0,0,0,0,0,0,0,0,0, 0,0,0,0,0,0,0,0,-1,-2, -3,-1,-2,-4,1,3,3,7,10,8, 9,6,6,4,4,0],
  [0,0,0,0,0,0,0,0,0,0, 0,0,0,0,0,0,-1,-2,-2.5,-3, -3,-1,3,7,16,17,21,20,29,24, 23,13,13,8,6,1],
  [-0.5,-0.5,-0.5,-0.5,0,-0.5,-0.5,-0.5,-1,-1, -1,-1,-1,-0.5,-1,-1,-1,-2,-3,-3.5, -1,-1.5,-3,-5,4,4,7,12,17,13, 17,11,9,5,6,0.5],
  [0,0,0,0,0,0,0,0,0,0, 0,0,0,0,0,0,0,-0.5,-1,-1, -2,-3,-2,-7,-9,-10,-8,-8.5,2,6, 9,9,8,6,5,0],
  [0,0,0,0,0,0,0,0,0,0, 0,0,0,0,0,0,0,0,0,-1, -2,-1,-3,-6,-4,-5,-3,-3,7,6, 9,8,7,6,5,1],
  [2,2,1,1,1,0,0,0,0,0, 1,1,1,2,2,2,3,5,4,2, 1,4,4,3,4,1,4,-3,5,2, 6,8,6,5,8,1],
  [0,0,0,0,0,0,0,0,0,0, 0,0,0,0,-1,-1,-1,-1,-1,-0.5, 0,1,2,2,12,10,13,13,22,22, 27,10,9,6,4,1],
  [0,0,0,0,0,0,0,0,0,0, 0,0,0,0,0,0,0,0,-1,-1, -1,1,2,3,10,11,13,14,23,21, 23,12,12,9,8,3],
  [-0.5,-0.5,-1,-0.5,-0.5,0,0,-0.5,-0.5,-0.5, 0,-0.5,-0.5,0,-0.5,-0.5,-1,-0.5,-1,-1, -1,2,-1,-2,8,14,18,22,31,22, 32,16,16,12,11,3],
  [0,0,0,0,-0.5,0,-0.5,1,-1,0, 0,0,-0.5,0,-0.5,-0.5,-1,-1,-0.5,-0.5, -1,-0.5,0,5,4,9,9,14,20,14, 18,8,8,5,4,2]
];
const falseOptLastBand = [
  [1,1,1,1,1,1,1,1,1,1, 1,1,1,1,1,1,1,1,1,1, 1,2,3,4,8,8,8,9,10,10, 9,6,5,4,3,2],
  [2,2,2,2,2,2,2,2,2,2, 2,2,2,2,2,2,2,2,2,2, 2,2,3,4,7,8,8,9,11,11, 10,8,7,5,4,2],
  [1,1,1,1,1,1,1,1,1,1, 1,1,1,1,1,1,1,2,2,2, 2,2,2,3,5,6,6,7,7,7, 7,6,5,4,3,2],
  [1,1,1,1,1,1,1,1,1,1, 1,1,1,1,1,1,1,1,1,1, 2,2,2,5,7,8,8,7,8,8, 8,7,6,5,4,2],
  [1,1,1,1,1,1,1,1,1,1, 1,1,1,1,1,1,1,1,1,1, 1,1,2,5,5,5,5,5,6,7, 8,7,5,4,3,2],
  [1.5,1.5,1.5,1.5,1.5,1.5,1.5,1.5,1.5,1.5, 2,2,3,4,5,6,7,8,8,8, 8,8,8,7,7,7,7,8,8,8, 8,8,8,7,5,3],
  [1.5,1.5,1.5,1.5,1.5,1.5,1.5,1.5,1.5,1.5, 1.5,1.5,1.5,1.5,1.5,1.5,1.5,1.5,1.5,1.5, 2,2,3,3,8,9,10,10,13,14, 16,10,8,6,4,2],
  [1,1,1,1,1,1,1,1,1,1, 1,1,1,1,1,1,1,1,1,1, 1,2,2,3,10,11,12,13,15,16, 16,10,8,6,5,3],
  [1.5,1.5,1.5,1.5,1.5,1.5,1.5,1.5,1.5,1.5, 1.5,1.5,1.5,1.5,1.5,1.5,1.5,1.5,1.5,1.5, 2,3,3,3,9,11,12,13,15,14, 14,10,8,7,6,3],
  [1,1,1,1,1,1,1,1,1,1, 1,1,1,1,1,1,1,1,1,1, 1,1,2,4,5,6,7,9,11,11, 10,9,7,5,4,2]
];

// ---- layout ----
const panelLeft = [35.7, 187.6, 339.6, 491.6, 643.6];
const panelWidth = 134.8;
const rows = [
  { top: 33.3,  bottom: 167.3, domain: [-55, 8.2],    minorStep: 10 / 3 },
  { top: 208.7, bottom: 342,   domain: [-70, 20.2],   minorStep: 5 },
  { top: 412.3, bottom: 545.7, domain: [-30.5, 11.9], minorStep: 2.5 },
  { top: 587,   bottom: 721,   domain: [-34.2, 13.5], minorStep: 2.5 },
  { top: 791.3, bottom: 925.7, domain: [-49.4, 44.5], minorStep: 5 },
  { top: 966.3, bottom: 1100,  domain: [-55.2, 52],   minorStep: 5 }
];

const groups = [
  { key: "g1", legendY: 10.7, rowStart: 0, series: [
    { name: "Video\u219BTrueOpt",   color: "#7f00ff", dash: null,  mean: videoTrueOpt,   band: videoTrueOptBand },
    { name: "Audio\u219BTrueOpt",   color: "#1ed6c6", dash: null,  mean: audioTrueOpt,   band: audioTrueOptBand },
    { name: "V+A\u219BTrueOpt",     color: "#ff1f7a", dash: "4,2", mean: vaTrueOpt,      band: vaTrueOptBand },
    { name: "NonOptQ\u219BTrueOpt", color: "#ffb300", dash: null,  mean: nonOptQTrueOpt, band: nonOptQTrueOptBand }
  ]},
  { key: "g2", legendY: 389.7, rowStart: 2, series: [
    { name: "Video\u219BNonOptQ", color: "#1f8ff0", dash: null,  mean: videoNonOptQ, band: videoNonOptQBand },
    { name: "Audio\u219BNonOptQ", color: "#ff4747", dash: null,  mean: audioNonOptQ, band: audioNonOptQBand },
    { name: "V+A\u219BNonOptQ",   color: "#33dd11", dash: "4,2", mean: vaNonOptQ,    band: vaNonOptQBand }
  ]},
  { key: "g3", legendY: 768.7, rowStart: 4, series: [
    { name: "NonOptQ\u219BLast",  color: "#ffbf00", dash: null, mean: nonOptQLast,  band: nonOptQLastBand },
    { name: "TrueOpt\u219BLast",  color: "#22c25a", dash: null, mean: trueOptLast,  band: trueOptLastBand },
    { name: "FalseOpt\u219BLast", color: "#e8161b", dash: null, mean: falseOptLast, band: falseOptLastBand }
  ]}
];

const svg = d3.select("#chart");
const x = d3.scaleLinear().domain([0, 35]).range([0, panelWidth]);

function drawLegend(g) {
  const lg = svg.append("g");
  let cx = 0;
  g.series.forEach(s => {
    const item = lg.append("g").attr("transform", `translate(${cx},0)`);
    item.append("line").attr("x1", 0).attr("x2", 24)
      .attr("stroke", s.color).attr("stroke-width", 1.5)
      .attr("stroke-dasharray", s.dash);
    const t = item.append("text").attr("x", 31).attr("dy", "0.35em")
      .attr("font-size", 9.3).text(s.name);
    cx += 31 + t.node().getComputedTextLength() + 20;
  });
  const total = cx - 20;
  lg.attr("transform", `translate(${406.5 - total / 2},${g.legendY})`);
}

function drawPanel(g, i) {
  const row = rows[g.rowStart + Math.floor(i / 5)];
  const col = i % 5;
  const w = panelWidth, h = row.bottom - row.top;
  const y = d3.scaleLinear().domain(row.domain).range([h, 0]);
  const yTicks = yTicksByRow[g.rowStart + Math.floor(i / 5)];
  const yMinor = d3.range(Math.ceil(row.domain[0] / row.minorStep) * row.minorStep, row.domain[1], row.minorStep);

  const p = svg.append("g").attr("transform", `translate(${panelLeft[col]},${row.top})`);
  const clipId = `clip-${g.key}-${i}`;
  p.append("clipPath").attr("id", clipId).append("rect").attr("width", w).attr("height", h);

  // grid
  p.append("g").selectAll("line").data(xTicks).join("line")
    .attr("x1", d => x(d)).attr("x2", d => x(d)).attr("y1", 0).attr("y2", h)
    .attr("stroke", "#e6e6e6").attr("stroke-width", 1);
  p.append("g").selectAll("line").data(yTicks).join("line")
    .attr("x1", 0).attr("x2", w).attr("y1", d => y(d)).attr("y2", d => y(d))
    .attr("stroke", "#e6e6e6").attr("stroke-width", 1);
  p.append("line").attr("x1", 0).attr("x2", w).attr("y1", y(0)).attr("y2", y(0))
    .attr("stroke", "#8a8a8a").attr("stroke-width", 0.9).attr("stroke-dasharray", "1.5,1.5");

  const plot = p.append("g").attr("clip-path", `url(#${clipId})`);
  g.series.forEach(s => {
    const m = s.mean[i], b = s.band[i];
    const area = d3.area()
      .x((d, k) => x(layers[k]))
      .y0((d, k) => y(d - (b[k] ?? 0)))
      .y1((d, k) => y(d + (b[k] ?? 0)));
    plot.append("path").datum(m).attr("d", area)
      .attr("fill", s.color).attr("fill-opacity", 0.2);
  });
  g.series.forEach(s => {
    const line = d3.line().x((d, k) => x(layers[k])).y(d => y(d));
    plot.append("path").datum(s.mean[i]).attr("d", line)
      .attr("fill", "none").attr("stroke", s.color).attr("stroke-width", 1.3)
      .attr("stroke-dasharray", s.dash);
  });

  // axes: thick left/bottom spines, dotted ticks on top/right
  const bottomAxis = p.append("g").attr("transform", `translate(0,${h})`)
    .call(d3.axisBottom(x).tickValues(xTicks).tickSize(-3).tickSizeOuter(0).tickPadding(4));
  bottomAxis.attr("font-size", 7.5).attr("color", "#222");
  bottomAxis.select(".domain").attr("stroke-width", 1.8);
  p.append("g").attr("transform", `translate(0,${h})`)
    .call(d3.axisBottom(x).tickValues(xMinorTicks).tickSize(-2).tickFormat(""))
    .attr("color", "#222").call(a => a.select(".domain").remove());

  const leftAxis = p.append("g")
    .call(d3.axisLeft(y).tickValues(yTicks).tickSize(-3).tickSizeOuter(0).tickPadding(5)
      .tickFormat(col === 0 ? d3.format("d") : ""));
  leftAxis.attr("font-size", 7.5).attr("color", "#222");
  leftAxis.select(".domain").attr("stroke-width", 1.8);
  p.append("g")
    .call(d3.axisLeft(y).tickValues(yMinor).tickSize(-2).tickFormat(""))
    .attr("color", "#222").call(a => a.select(".domain").remove());

  p.append("g")
    .call(d3.axisTop(x).tickValues(xMinorTicks).tickSize(-2).tickFormat(""))
    .attr("color", "#222").call(a => a.select(".domain").remove());
  p.append("g").attr("transform", `translate(${w},0)`)
    .call(d3.axisRight(y).tickValues(yMinor).tickSize(-2).tickFormat(""))
    .attr("color", "#222").call(a => a.select(".domain").remove());

  // labels
  svg.append("text").attr("x", panelLeft[col] + w / 2).attr("y", row.top - 4.8)
    .attr("text-anchor", "middle").attr("font-size", 8.3).text(categories[i]);
  svg.append("text").attr("x", panelLeft[col] + w / 2).attr("y", row.bottom + 19)
    .attr("text-anchor", "middle").attr("font-size", 8).text("Layer");
  if (col === 0) {
    svg.append("text")
      .attr("transform", `translate(10,${(row.top + row.bottom) / 2}) rotate(-90)`)
      .attr("text-anchor", "middle").attr("dy", "0.35em").attr("font-size", 7.6)
      .text("% Change in Probability");
  }
}

groups.forEach(g => {
  drawLegend(g);
  categories.forEach((c, i) => drawPanel(g, i));
});
</script>
</body>
</html>
